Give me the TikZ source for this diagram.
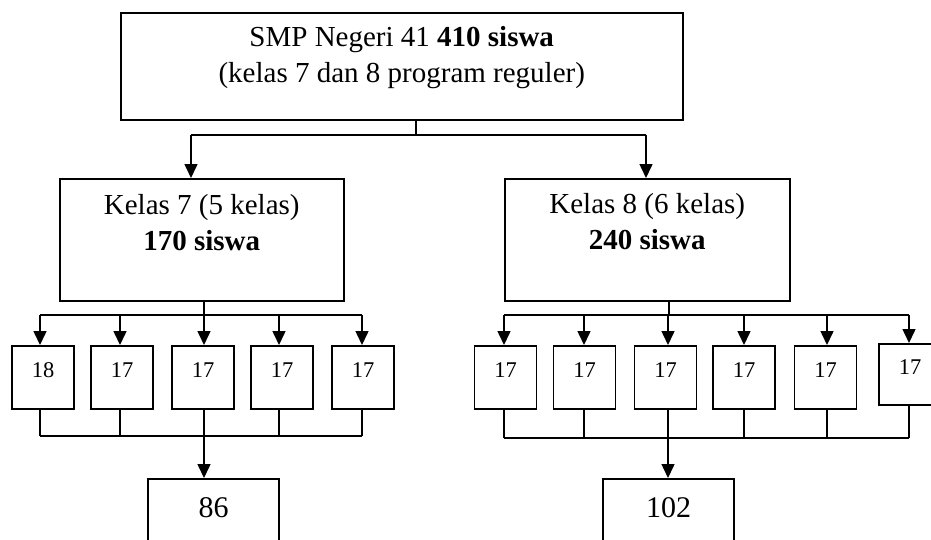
\documentclass[tikz,border=0pt]{standalone}
\usepackage{fontspec}
\setmainfont{Liberation Serif}
\usetikzlibrary{arrows.meta}
\begin{document}
\begin{tikzpicture}[x=1pt,y=-1pt,
  box/.style={draw, line width=1.5pt, inner sep=0pt, anchor=north west, align=center},
  bigfont/.style={font=\fontsize{29}{36}\selectfont},
  smallbox/.style={draw, line width=1.5pt, inner sep=0pt, anchor=north, minimum width=62pt, minimum height=63pt, font=\fontsize{22.5}{26}\selectfont},
  sumbox/.style={draw, line width=1.5pt, inner xsep=0pt, inner ysep=19pt, anchor=north, minimum width=131pt, text height=20pt, text depth=70pt, font=\fontsize{30}{36}\selectfont},
  conn/.style={line width=1.5pt},
  arr/.style={line width=1.5pt, -{Triangle[length=14pt,width=13pt]}}]
\useasboundingbox (0,0) rectangle (931,539);
\fill[white] (0,0) rectangle (931,539);
\clip (0,0) rectangle (931,539);

% top box
\node[box, bigfont, minimum width=562pt, minimum height=107pt] (top) at (120,12)
  {\raisebox{9pt}[\height][\depth]{\begin{tabular}{@{}c@{}}SMP Negeri 41 \textbf{410 siswa}\\(kelas 7 dan 8 program reguler)\end{tabular}}};

% class boxes
\node[box, bigfont, minimum width=284pt, minimum height=122pt] (k7) at (59,178)
  {\raisebox{14pt}[\height][\depth]{\begin{tabular}{@{}c@{}}Kelas 7 (5 kelas)\\\textbf{170 siswa}\end{tabular}}};
\node[box, bigfont, minimum width=285pt, minimum height=122pt] (k8) at (504,178)
  {\raisebox{15pt}[\height][\depth]{\begin{tabular}{@{}c@{}}Kelas 8 (6 kelas)\\\textbf{240 siswa}\end{tabular}}};

% top connectors
\coordinate (t1) at (416,135);
\coordinate (tL) at (191,135);
\coordinate (tR) at (646,135);
\draw[conn] (top.south -| t1) -- (t1);
\draw[conn] (tL) -- (tR);
\draw[arr] (tL) -- (tL |- k7.north);
\draw[arr] (tR) -- (tR |- k8.north);

% small boxes (kelas 7)
\foreach \n/\c/\t in {a1/43/18, a2/122/17, a3/203/17, a4/282/17, a5/363/17}
  \node[smallbox] (\n) at (\c,345) {\raisebox{7pt}[\height][\depth]{\t}};
% small boxes (kelas 8)
\foreach \n/\c in {b1/505.5, b2/584.5, b3/665.5, b4/744, b5/825.5}
  \node[smallbox] (\n) at (\c,345) {\raisebox{7pt}[\height][\depth]{17}};
\node[smallbox, minimum height=61pt] (b6) at (910,343) {\raisebox{7pt}[\height][\depth]{17}};

% stem x positions
\foreach \n/\x in {a1/40, a2/120, a3/204, a4/279, a5/362, b1/504, b2/584, b3/668, b4/744, b5/827, b6/909}
  \coordinate (\n s) at (\x,0);

% kelas 7 distribution
\coordinate (h7) at (204,315);
\draw[conn] (k7.south -| h7) -- (h7);
\draw[conn] (a1s |- h7) -- (a5s |- h7);
\foreach \n in {a1,a2,a3,a4,a5}
  \draw[arr] (\n s |- h7) -- (\n s |- \n.north);

% kelas 8 distribution
\coordinate (h8) at (669,315);
\draw[conn] (k8.south -| h8) -- (h8);
\draw[conn] (b1s |- h8) -- (b6s |- h8);
\foreach \n in {b1,b2,b3,b4,b5,b6}
  \draw[arr] (\n s |- h8) -- (\n s |- \n.north);

% sum boxes
\node[sumbox] (s7) at (213.5,478) {86};
\node[sumbox] (s8) at (668.5,478) {102};

% collecting lines
\coordinate (l7) at (0,436);
\coordinate (l8) at (0,438);
\foreach \n in {a1,a2,a4,a5}
  \draw[conn] (\n s |- \n.south) -- (\n s |- l7);
\draw[conn] (a1s |- l7) -- (a5s |- l7);
\draw[arr] (a3s |- a3.south) -- (a3s |- s7.north);
\foreach \n in {b1,b2,b4,b5,b6}
  \draw[conn] (\n s |- \n.south) -- (\n s |- l8);
\draw[conn] (b1s |- l8) -- (b6s |- l8);
\draw[arr] (b3s |- b3.south) -- (b3s |- s8.north);
\end{tikzpicture}
\end{document}
